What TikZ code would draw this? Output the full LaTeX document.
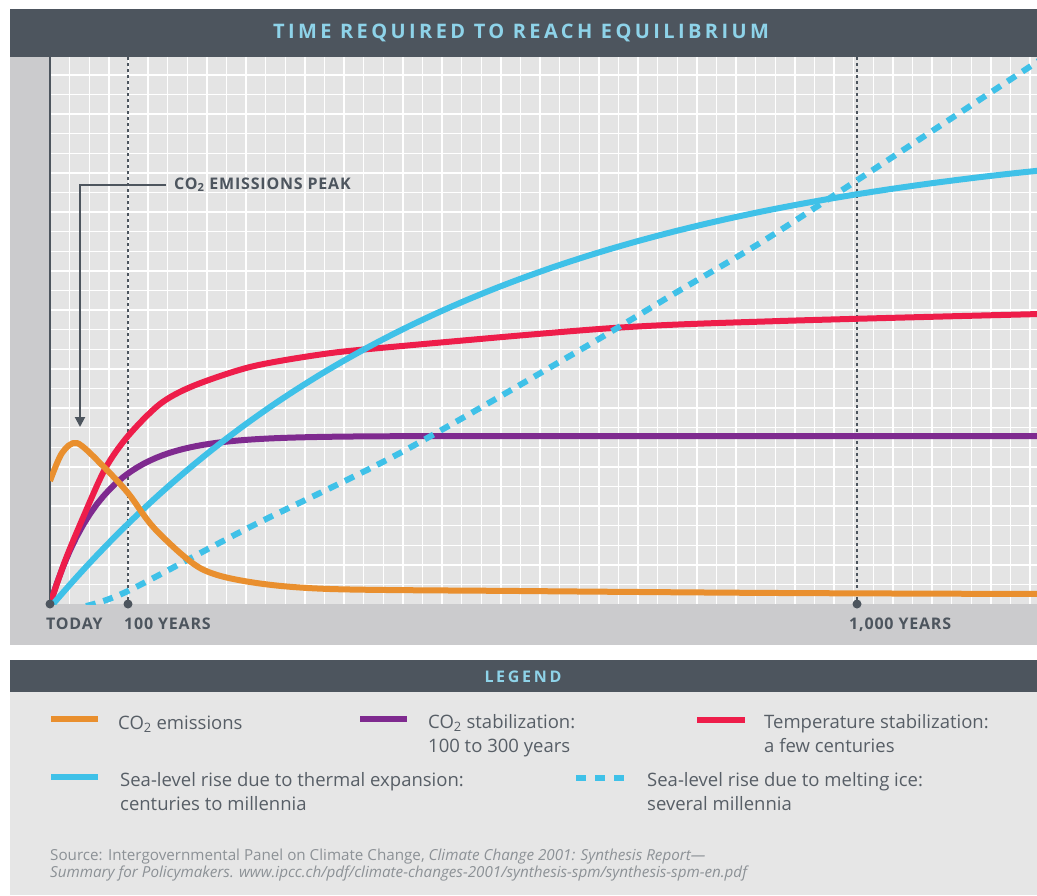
\documentclass[tikz,border=0pt]{standalone}
\usepackage{fontspec}
\setmainfont{Open Sans}
\newfontfamily\capsfont{Open Sans}[LetterSpace=5]
\newfontfamily\headfont{Open Sans}[LetterSpace=17]
\usetikzlibrary{arrows.meta,positioning}
\definecolor{bar}{HTML}{4D555E}
\definecolor{titleblue}{HTML}{8ED3E9}
\definecolor{panel}{HTML}{CBCBCD}
\definecolor{gridbg}{HTML}{E4E4E4}
\definecolor{legbg}{HTML}{E6E6E6}
\definecolor{legink}{HTML}{575E66}
\definecolor{srcgrey}{HTML}{8C9196}
\definecolor{emis}{HTML}{E98F2E}
\definecolor{temp}{HTML}{EE1D4A}
\definecolor{stab}{HTML}{7F2A8F}
\definecolor{sea}{HTML}{3FC1E8}
\tikzset{
  curve/.style={line width=6pt,line join=round},
  melt/.style={line width=6pt,dash pattern=on 10pt off 8pt},
  swatch/.style={line width=6pt},
  axlbl/.style={inner sep=0pt,anchor=base west,text=bar,font=\capsfont\fontsize{16}{18}\selectfont\bfseries},
  headlbl/.style={text=titleblue,font=\headfont\bfseries},
  legtext/.style={inner sep=0pt,anchor=base west,text=legink,align=left,font=\fontsize{18.5}{23.5}\selectfont},
  yearline/.style={bar,line width=1.8pt,dash pattern=on 3pt off 3pt},
  gridline/.style={white,line width=1.4pt}
}
\begin{document}
\begin{tikzpicture}[x=1pt,y=-1pt]
\useasboundingbox (0,0) rectangle (1037,895);
% title bar
\fill[bar] (10,9) rectangle (1037,57);
\node[headlbl,font=\headfont\fontsize{20}{24}\selectfont\bfseries] (title) at (521,33) {TIME REQUIRED TO REACH EQUILIBRIUM};
% plot panel
\fill[panel] (10,57) rectangle (1037,645);
\fill[gridbg] (50,57) rectangle (1037,604);
\foreach \i in {1,...,50}
  \draw[gridline] ({50+19.6*\i},57) -- ({50+19.6*\i},604);
\foreach \j in {1,...,27}
  \draw[gridline] (50,{604-19.6*\j}) -- (1037,{604-19.6*\j});
\draw[yearline] (128,57) -- (128,604);
\draw[yearline] (857,57) -- (857,604);
\draw[bar,line width=2pt] (50,57) -- (50,604);
% curves
\begin{scope}
  \clip (50,57) rectangle (1037,604);
  \draw[curve,stab] plot[domain=50:1040,samples=150] (\x,{604-168*(1-exp(-(\x-50)/52))});
  \draw[curve,temp] plot[smooth] coordinates {(50,604) (65,561) (82,520) (105,469) (128,436) (160,404) (193,386) (250,367) (317,355) (380,348) (613,328) (780,321) (1040,314)};
  \draw[curve,sea] plot[domain=53:1040,samples=120] (\x,{604-475*(1-exp(-(\x-53)/405))});
  \draw[melt,sea] plot[smooth] coordinates {(86,606) (128,591) (250,527) (400,453) (580,350) (677,292) (760,243) (856,181) (1040,60)};
  \draw[curve,emis] plot[smooth] coordinates {(50,481) (62,453) (77,443) (102,465) (128,493) (155,529) (200,568) (250,582) (330,589) (520,591) (780,593) (1040,594)};
\end{scope}
% time marks
\coordinate (today) at (50,604);
\coordinate (hundred) at (128,604);
\coordinate (thousand) at (857,604);
\foreach \p in {today,hundred,thousand}
  \fill[bar] (\p) circle (4.5pt);
\node[axlbl] (ltoday) at (46,629) {TODAY};
\node[axlbl] (lhundred) at (124,629) {100 YEARS};
\node[axlbl] (lthousand) at (849,629) {1,000 YEARS};
% peak annotation
\node[axlbl] (peak) at (174,189) {CO\textsubscript{2} EMISSIONS PEAK};
\coordinate (tip) at (80,427);
\draw[bar,line width=2pt,-{Triangle[width=10pt,length=10pt]}] ([xshift=-8pt]peak.west) -| (tip);
% legend
\fill[bar] (10,660) rectangle (1037,692);
\node[headlbl,font=\headfont\fontsize{16}{18}\selectfont\bfseries] (legend) at (523,677) {LEGEND};
\fill[legbg] (10,692) rectangle (1037,895);
\draw[swatch,emis] (51,719) -- (98,719);
\node[legtext] (lemis) at (118,729) {CO\textsubscript{2} emissions};
\draw[swatch,stab] (360,719) -- (407,719);
\node[legtext] (lstab) at (428,752) {CO\textsubscript{2} stabilization:\\100 to 300 years};
\draw[swatch,temp] (697,720) -- (745,720);
\node[legtext] (ltemp) at (764,752) {Temperature stabilization:\\a few centuries};
\draw[swatch,sea] (51,777) -- (98,777);
\node[legtext] (lsea) at (120,810) {Sea-level rise due to thermal expansion:\\centuries to millennia};
\draw[swatch,sea,dash pattern=on 10pt off 9pt] (576,778) -- (624,778);
\node[legtext] (lmelt) at (647,810) {Sea-level rise due to melting ice:\\several millennia};
% source
\node[inner sep=0pt,anchor=base west,text=srcgrey,align=left,font=\fontsize{15.2}{16.5}\selectfont] (src) at (50,877)
  {Source: Intergovernmental Panel on Climate Change, \textit{Climate Change 2001: Synthesis Report---}\\
   \textit{Summary for Policymakers. www.ipcc.ch/pdf/climate-changes-2001/synthesis-spm/synthesis-spm-en.pdf}};
\end{tikzpicture}
\end{document}
